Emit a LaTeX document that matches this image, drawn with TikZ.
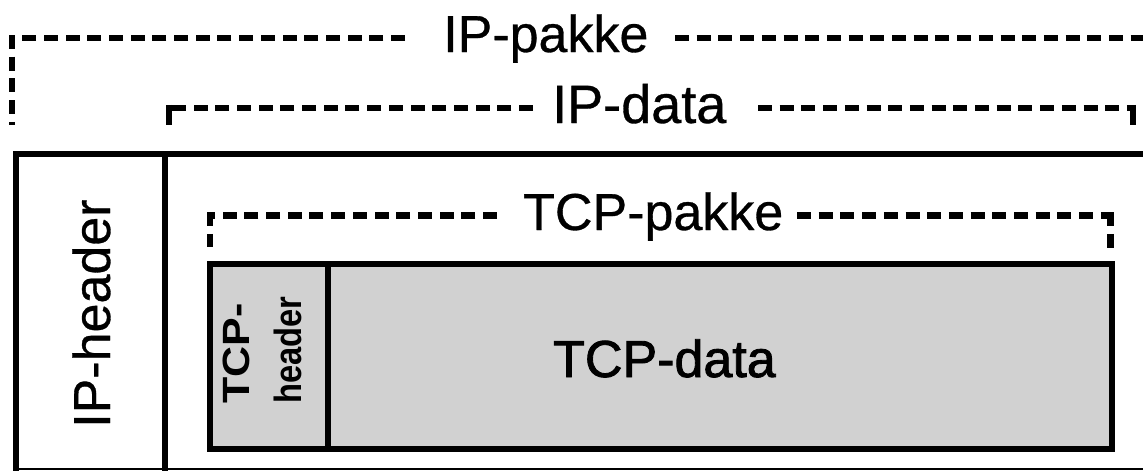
\documentclass[tikz,border=0pt]{standalone}
\usepackage{fontspec}
\setmainfont{Liberation Sans}
\newfontfamily\scanfont[FakeBold=0.6]{Liberation Sans}
\newfontfamily\heavyfont[FakeBold=1.6]{Liberation Sans}
\begin{document}
\begin{tikzpicture}[x=1pt,y=-1pt,
  frame/.style={line width=6pt, line cap=rect},
  thinframe/.style={line width=2.5pt},
  bracket/.style={line width=6.5pt, dash pattern=on 14pt off 7.7pt},
  tick/.style={line width=6.5pt},
  boxfill/.style={fill=black!18},
  biglabel/.style={inner sep=0pt, font=\scanfont\fontsize{52}{60}\selectfont},
  smalllabel/.style={inner sep=0pt, font=\fontsize{38}{44}\selectfont\bfseries}
]
\useasboundingbox (0,0) rectangle (1143,471);

% outer IP packet frame
\coordinate (otl) at (15.5,153.5);
\coordinate (otr) at (1160,153.5);
\coordinate (obl) at (15.5,469);
\coordinate (obr) at (1160,469);
\coordinate (dtop) at (164.5,153.5);
\coordinate (dbot) at (164.5,469);
\draw[frame] (otr) -- (otl) -- (obl);
\draw[thinframe] (obl) -- (obr);
\draw[frame] (dtop) -- (dbot);

% TCP packet boxes
\coordinate (ttl) at (210,263.5);
\coordinate (tbr) at (1111.5,448.5);
\coordinate (htop) at (327.5,263.5);
\coordinate (hbot) at (327.5,448.5);
\fill[boxfill] (ttl) rectangle (tbr);
\draw[frame] (ttl) rectangle (tbr);
\draw[frame] (htop) -- (hbot);

% labels
\node[biglabel, anchor=base west] (ippakke) at (443,52) {IP-pakke};
\node[biglabel, anchor=base west, font=\scanfont\fontsize{54}{60}\selectfont] (ipdata) at (552,123) {IP-data};
\node[biglabel, anchor=base west] (tcppakke) at (523,230) {TCP-pakke};
\node[biglabel, anchor=base west, font=\heavyfont\fontsize{52}{60}\selectfont] (tcpdata) at (553,377) {TCP-data};
\node[biglabel, anchor=base west, rotate=90] (ipheader) at (110,428) {IP-header};
\node[smalllabel, anchor=base west, rotate=90] (tcph1) at (249,404) {\scalebox{1.13}[1]{TCP-}};
\node[smalllabel, anchor=base west, rotate=90] (tcph2) at (301,404) {\scalebox{0.86}[1]{header}};

% dashed brackets
\coordinate (a1) at (12,125);
\coordinate (a2) at (12,38);
\coordinate (a2b) at (12,35);
\coordinate (a3) at (405,38);
\coordinate (a4) at (675,38);
\coordinate (a5) at (1160,38);
\draw[bracket] (a3) -- (a2);
\draw[bracket] (a2b) -- (a1);
\draw[bracket] (a4) -- (a5);

\coordinate (b1) at (169,125);
\coordinate (b2) at (169,108);
\coordinate (b2b) at (169,104.75);
\coordinate (b3) at (533,108);
\coordinate (b4) at (758,108);
\coordinate (b5) at (1133,108);
\coordinate (b5b) at (1133,104.75);
\coordinate (b6) at (1133,125);
\draw[bracket] (b3) -- (b2);
\draw[tick] (b2b) -- (b1);
\draw[bracket] (b4) -- (b5);
\draw[tick] (b5b) -- (b6);

\coordinate (c1) at (210,247);
\coordinate (c2) at (210,215.5);
\coordinate (c2b) at (210,212.25);
\coordinate (c3) at (497,215.5);
\coordinate (c4) at (797,215.5);
\coordinate (c5) at (1110.5,215.5);
\coordinate (c5b) at (1110.5,212.25);
\coordinate (c6) at (1110.5,248);
\draw[bracket] (c3) -- (c2);
\draw[bracket] (c2b) -- (c1);
\draw[bracket] (c4) -- (c5);
\draw[bracket] (c5b) -- (c6);
\end{tikzpicture}
\end{document}
